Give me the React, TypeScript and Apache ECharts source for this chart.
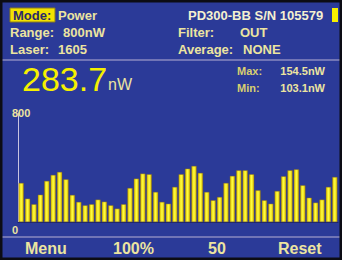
import React, { useEffect, useRef } from "react";
import * as echarts from "echarts";

const categories: string[] = Array.from({ length: 50 }, (_, i) => String(i + 1));
const powerValues: number[] = [
  286, 171, 130, 200, 301, 345, 367, 313, 198, 147,
  122, 130, 164, 149, 122, 98, 130, 249, 318, 355,
  350, 220, 147, 134, 257, 350, 391, 411, 360, 220,
  159, 183, 286, 338, 379, 379, 350, 232, 159, 134,
  227, 335, 379, 386, 269, 178, 142, 164, 257, 330,
];
const yTickLabels: string[] = ["800", "0"];
const yMax = 800;
const reading = "283.7";
const readingUnit = "nW";
const maxReading = "154.5nW";
const minReading = "103.1nW";
const footerLabels: string[] = ["Menu", "100%", "50", "Reset"];

const BG = "#2b3a98";
const CREAM = "#ece4a0";
const FONT = "'Liberation Sans', Arial, sans-serif";

export default function App() {
  const ref = useRef<HTMLDivElement>(null);
  useEffect(() => {
    document.body.style.margin = "0";
    if (!ref.current) return;
    const chart = echarts.init(ref.current, null, { renderer: "svg" });
    const txt = (text: string, x: number, y: number, size: number, color: string, opts: any = {}) => ({
      type: "text",
      x,
      y,
      z: 10,
      style: {
        text,
        fill: color,
        font: `${opts.weight || "bold"} ${size}px ${FONT}`,
        align: opts.align || "left",
        verticalAlign: "middle",
      },
    });
    const footerX = [25, 113, 208, 278];
    chart.setOption({
      animation: false,
      backgroundColor: BG,
      grid: { left: 18, right: 4, top: 113, bottom: 38 },
      xAxis: {
        type: "category",
        data: categories,
        axisLine: { show: true, lineStyle: { color: "#1c2470", width: 1 } },
        axisTick: { show: false },
        axisLabel: { show: false },
        splitLine: { show: false },
      },
      yAxis: {
        type: "value",
        min: 0,
        max: yMax,
        axisLine: { show: true, lineStyle: { color: "#c8c4e0", width: 1 } },
        axisTick: { show: false },
        axisLabel: { show: false },
        splitLine: { show: false },
      },
      series: [
        {
          type: "bar",
          data: powerValues,
          barCategoryGap: "20%",
          itemStyle: {
            color: new echarts.graphic.LinearGradient(0, 0, 1, 0, [
              { offset: 0, color: "#e0c400" },
              { offset: 0.5, color: "#ffff40" },
              { offset: 1, color: "#dcbc00" },
            ]),
            borderColor: "#8a6c18",
            borderWidth: 0.4,
          },
        },
      ],
      graphic: [
        { type: "line", shape: { x1: 0, y1: 60, x2: 342, y2: 60 }, style: { stroke: "#b8b0d4", lineWidth: 1 } },
        { type: "line", shape: { x1: 0, y1: 237, x2: 342, y2: 237 }, style: { stroke: "#b8b0d4", lineWidth: 1 } },
        { type: "rect", shape: { x: 10, y: 8, width: 45, height: 14 }, style: { fill: "#f2e200", stroke: "#8a7a20", lineWidth: 1 } },
        txt("Mode:", 13, 15.5, 13, "#2a2a6a"),
        txt("Power", 58, 15, 13, CREAM),
        txt("PD300-BB S/N 105579", 188, 15, 13, "#f4f0d0"),
        { type: "rect", shape: { x: 332, y: 8, width: 6, height: 14 }, style: { fill: "#f8f000" } },
        txt("Range:", 10, 32, 13, CREAM),
        txt("800nW", 63, 32, 13, CREAM),
        txt("Filter:", 178, 32, 13, CREAM),
        txt("OUT", 240, 32, 13, CREAM),
        txt("Laser:", 10, 49, 13, CREAM),
        txt("1605", 58, 49, 13, CREAM),
        txt("Average:", 178, 49, 13, CREAM),
        txt("NONE", 243, 49, 13, CREAM),
        txt(reading, 22, 79, 34, "#f6f000", { weight: "normal" }),
        txt(readingUnit, 108, 84, 16, CREAM, { weight: "normal" }),
        txt("Max:", 237, 71, 11, "#d8d070"),
        txt(maxReading, 325, 71, 11, CREAM, { align: "right" }),
        txt("Min:", 237, 88, 11, "#d8d070"),
        txt(minReading, 325, 88, 11, CREAM, { align: "right" }),
        txt(yTickLabels[0], 12, 113, 11, CREAM),
        txt(yTickLabels[1], 12, 230, 11, CREAM),
        ...footerLabels.map((l, i) => txt(l, footerX[i], 248, 16, CREAM)),
        { type: "rect", z: 20, shape: { x: 0, y: 0, width: 342, height: 260 }, style: { fill: "none", stroke: "#0c0c14", lineWidth: 5 } },
      ],
    });
    return () => chart.dispose();
  }, []);
  return <div ref={ref} style={{ width: 342, height: 260 }} />;
}
